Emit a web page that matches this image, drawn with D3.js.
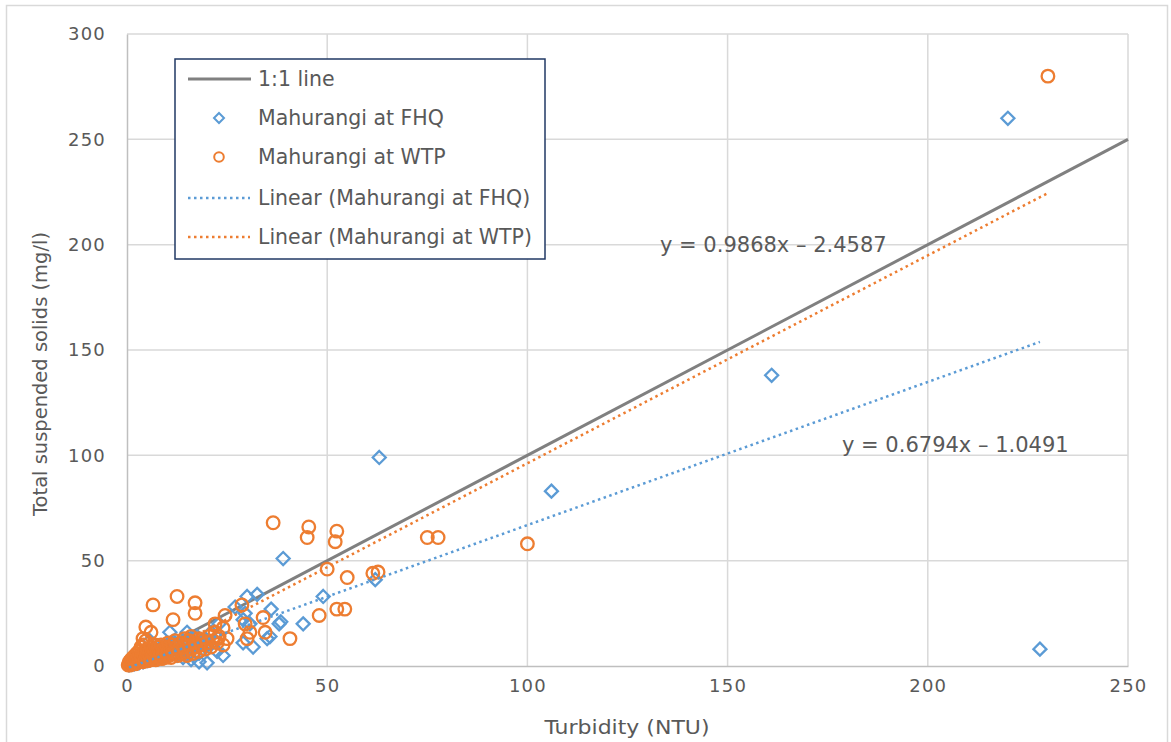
<!DOCTYPE html>
<html><head><meta charset="utf-8">
<script src="https://cdn.jsdelivr.net/npm/d3@7"></script>
<style>
html,body{margin:0;padding:0;background:#fff;}
svg text{font-family:"DejaVu Sans","Verdana",sans-serif;fill:#595959;}
</style></head>
<body><svg id="c" width="1171" height="742"></svg>
<script>
// ---- data ----
const xTicks = [0, 50, 100, 150, 200, 250];
const yTicks = [0, 50, 100, 150, 200, 250, 300];
const seriesNames = ["1:1 line", "Mahurangi at FHQ", "Mahurangi at WTP", "Linear (Mahurangi at FHQ)", "Linear (Mahurangi at WTP)"];
const oneToOne = [[0, 0], [250, 250]];
const fhqX = [0.5,0.8,1,1.2,1.5,1.8,2,2.2,2.5,2.8,3,3.2,3.5,3.8,4,4.2,4.5,4.8,5,5.2,
  5.5,5.8,6,6.3,6.5,6.8,7,7.2,7.5,7.8,8,8.3,8.5,8.8,9,9.3,9.6,10,10,
  10.5,11,11.5,12,12,12.5,13,13.5,14,14,14.5,15,15.5,16,16,16.5,17,17.5,18,18,18.5,19,19.5,20,20,
  10.7,15,5.7,21,22.5,23,24,27,29,29,29.5,30,30.7,31.5,32.5,35,36,38,38.4,35.7,
  39,44,49,62,63,106,161,220,228];
const fhqY = [0.5,1,1.5,0.8,2,1,2.5,1.5,3,2,1.5,3.5,2.5,4,2,3,5,3.5,2.5,4.5,
  6,3,5,7,4,5.5,3.5,8,6,4.5,7,5,9,6,4,8,6.5,10,5,
  7,9,6,11,8,5,10,7,12,4,9,11,6,13,3,8,10,14,6,2,11,8,13,1.5,10,
  16,16,12,16,7,20,5,28,22,11,25,33,20,9,34,13,27,20,21,14,
  51,20,33,41,99,83,138,260,8];
const wtpX = [0.3,0.5,0.6,0.8,1,1,1.2,1.4,1.5,1.6,1.8,2,2,2.2,2.4,2.5,2.6,2.8,3,3,3.2,3.4,3.5,3.6,3.8,4,4,4.2,4.4,4.5,4.7,4.8,5,5,5.2,5.4,5.6,5.8,6,6,6.2,6.4,6.6,6.8,7,7,7.2,7.4,7.6,7.8,8,8,8.3,8.5,8.7,9,9,9.3,9.6,10,10,10.3,10.6,11,11,11.4,11.8,12,12,12.4,12.8,13,13.5,13.8,14,14.3,14.6,15,15,15.5,16,16,16.5,17,17.5,18,18,18.5,19,19.5,20,20.5,21,21.5,22,22.5,23,24,24,25,22,22.7,
  6.5,12.5,17,17,11.5,4.7,6,4,24.5,28.7,34,29.5,34.5,30.7,30,40.7,48,52.4,54.4,50,55,61.4,62.7,75,77.7,100,36.5,45.4,45,52.4,52,230];
const wtpY = [0.5,1,2,0.5,1.5,3,2.5,1,4,2,3,1,5,2.5,3.5,6,1.5,4,2.5,7,5,3,9,4,6,2,10,5,7,3,12,4.5,6,8,2.5,5,7,4,9,3,6,5,8,4,7,10,3,6,5,9,4,7,6,10,3.5,8,5,7,4,9,6,11,5,8,4,10,7,6,12,9,5,8,11,6,9,13,7,10,5,12,8,14,6,11,9,13,7,10,12,8,11,14,9,12,16,11,14,18,10,13,20,13,
  29,33,30,25,22,18.5,16,13,24,29,23,20,16,16,13,13,24,27,27,46,42,44,44.6,61,61,58,68,66,61,64,59,280];
// linear trendline coefficients (slope, intercept) as shown in the chart
const fhqFit = [0.6794, -1.0491];
const wtpFit = [0.9868, -2.4587];
const eqLabels = ["y = 0.9868x – 2.4587", "y = 0.6794x – 1.0491"];

// ---- drawing ----
const svg = d3.select("#c");
const m = {l:127, r:1128, t:34, b:666};
const x = d3.scaleLinear().domain([0,250]).range([m.l, m.r]);
const y = d3.scaleLinear().domain([0,300]).range([m.b, m.t]);
const blue = "#5B9BD5", orange = "#ED7D31", gray = "#808080";
const dash = "2.5 3.5";

svg.append("rect").attr("x",6.5).attr("y",5.5).attr("width",1161).attr("height",740)
  .attr("fill","#fff").attr("stroke","#d9d9d9").attr("stroke-width",1.5);

// gridlines
svg.append("g").selectAll("line").data(xTicks.slice(1)).join("line")
  .attr("x1",d=>x(d)).attr("x2",d=>x(d)).attr("y1",y(0)).attr("y2",y(300))
  .attr("stroke","#d9d9d9").attr("stroke-width",1.5);
svg.append("g").selectAll("line").data(yTicks.slice(1)).join("line")
  .attr("x1",x(0)).attr("x2",x(250)).attr("y1",d=>y(d)).attr("y2",d=>y(d))
  .attr("stroke","#d9d9d9").attr("stroke-width",1.5);
// axes
const xAxis = svg.append("g").attr("transform",`translate(0,${y(0)})`)
  .call(d3.axisBottom(x).tickValues(xTicks).tickSize(0).tickPadding(13));
xAxis.select(".domain").attr("stroke","#bfbfbf").attr("stroke-width",1.5);
xAxis.selectAll("text").attr("font-size",18).attr("letter-spacing",1.2)
  .style("fill","#595959").attr("font-family","DejaVu Sans");
const yAxis = svg.append("g").attr("transform",`translate(${x(0)},0)`)
  .call(d3.axisLeft(y).tickValues(yTicks).tickSize(0).tickPadding(21));
yAxis.select(".domain").attr("stroke","#bfbfbf").attr("stroke-width",1.5);
yAxis.selectAll("text").attr("font-size",18).attr("letter-spacing",1.2)
  .style("fill","#595959").attr("font-family","DejaVu Sans");

// titles
svg.append("text").attr("x",627).attr("y",734).attr("text-anchor","middle")
  .attr("font-family","Open Sans").attr("font-size",20)
  .attr("textLength",165).attr("lengthAdjust","spacingAndGlyphs").text("Turbidity (NTU)");
svg.append("text").attr("transform","translate(47,374) rotate(-90)").attr("text-anchor","middle")
  .attr("font-family","Open Sans").attr("font-size",20)
  .attr("textLength",284).attr("lengthAdjust","spacingAndGlyphs").text("Total suspended solids (mg/l)");

// 1:1 line
const line = d3.line().x(d=>x(d[0])).y(d=>y(d[1]));
svg.append("path").datum(oneToOne).attr("d",line).attr("stroke",gray).attr("stroke-width",3).attr("fill","none");

// markers
const diamond = s => `M0,${-s}L${s},0L0,${s}L${-s},0Z`;
const fhq = fhqX.map((v,i)=>[v,fhqY[i]]);
const wtp = wtpX.map((v,i)=>[v,wtpY[i]]);
svg.append("g").selectAll("path").data(fhq).join("path")
  .attr("transform",d=>`translate(${x(d[0])},${y(d[1])})`).attr("d",diamond(6.5))
  .attr("fill","none").attr("stroke",blue).attr("stroke-width",2.3);
svg.append("g").selectAll("circle").data(wtp).join("circle")
  .attr("cx",d=>x(d[0])).attr("cy",d=>y(d[1])).attr("r",6.3)
  .attr("fill","none").attr("stroke",orange).attr("stroke-width",2.3);

// trendlines
function fitLine(fit, xs){
  const x0 = d3.min(xs), x1 = d3.max(xs);
  return [[x0, fit[0]*x0+fit[1]],[x1, fit[0]*x1+fit[1]]];
}
svg.append("path").datum(fitLine(fhqFit,fhqX)).attr("d",line).attr("fill","none")
  .attr("stroke",blue).attr("stroke-width",2.5).attr("stroke-dasharray",dash);
svg.append("path").datum(fitLine(wtpFit,wtpX)).attr("d",line).attr("fill","none")
  .attr("stroke",orange).attr("stroke-width",2.5).attr("stroke-dasharray",dash);

// equation labels
svg.append("text").attr("x",660).attr("y",252).attr("font-size",21).text(eqLabels[0]);
svg.append("text").attr("x",842).attr("y",452).attr("font-size",21).text(eqLabels[1]);

// legend
const lg = svg.append("g");
lg.append("rect").attr("x",175).attr("y",59).attr("width",370).attr("height",200)
  .attr("fill","#fff").attr("stroke","#203864").attr("stroke-width",1.5);
const rows = [79,118,157,198,237];
rows.forEach((ry,i)=>{
  lg.append("text").attr("x",258).attr("y",ry+7).attr("font-size",20.5).text(seriesNames[i]);
});
lg.append("line").attr("x1",188).attr("x2",251).attr("y1",rows[0]).attr("y2",rows[0]).attr("stroke",gray).attr("stroke-width",3);
lg.append("path").attr("transform",`translate(219,${rows[1]})`).attr("d",diamond(5)).attr("fill","none").attr("stroke",blue).attr("stroke-width",2);
lg.append("circle").attr("cx",219).attr("cy",rows[2]).attr("r",4.8).attr("fill","none").attr("stroke",orange).attr("stroke-width",2);
lg.append("line").attr("x1",188).attr("x2",250).attr("y1",rows[3]).attr("y2",rows[3]).attr("stroke",blue).attr("stroke-width",2.5).attr("stroke-dasharray",dash);
lg.append("line").attr("x1",188).attr("x2",250).attr("y1",rows[4]).attr("y2",rows[4]).attr("stroke",orange).attr("stroke-width",2.5).attr("stroke-dasharray",dash);
</script></body></html>
